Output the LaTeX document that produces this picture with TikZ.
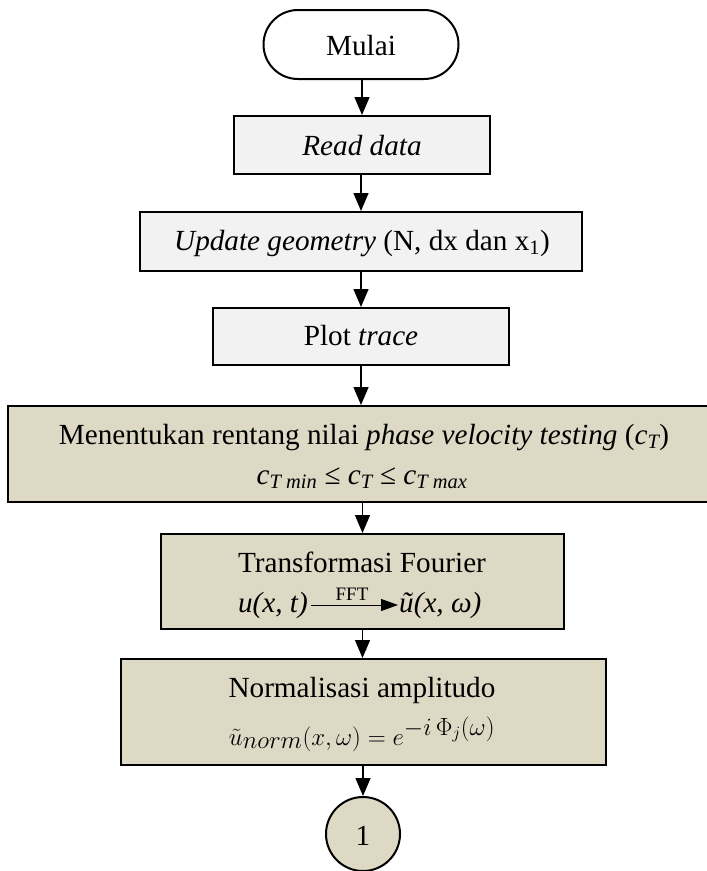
\documentclass[tikz,border=0pt]{standalone}
\usepackage{fontspec}
\setmainfont{Liberation Serif}
\usetikzlibrary{arrows.meta,shapes.misc}
\definecolor{boxgrey}{HTML}{F2F2F2}
\definecolor{boxtan}{HTML}{DDD9C4}
\tikzset{
  txt/.style={font=\fontsize{29.2}{35}\selectfont, inner sep=0pt, anchor=base},
  mathtxt/.style={font=\fontsize{36}{40}\selectfont, inner sep=0pt, anchor=base},
  smalltxt/.style={font=\fontsize{19}{22}\selectfont, inner sep=0pt, anchor=base},
  outline/.style={draw=black, line width=2pt},
  greybox/.style={outline, fill=boxgrey, rectangle, inner sep=0pt},
  tanbox/.style={outline, fill=boxtan, rectangle, inner sep=0pt},
  terminal/.style={outline, fill=white, rounded rectangle, inner sep=0pt},
  connector/.style={outline, fill=boxtan, circle, inner sep=0pt},
  flowarrow/.style={draw=black, line width=1.3pt, -{Triangle[length=18pt,width=15pt]}},
}
\begin{document}
\begin{tikzpicture}[x=1pt,y=-1pt]
\useasboundingbox (0,0) rectangle (707,871);

% boxes of the flow, top to bottom
\node[terminal, minimum width=195pt, minimum height=69pt] (start) at (361,44.5) {};
\node[greybox, minimum width=256pt, minimum height=58pt] (read) at (362,145) {};
\node[greybox, minimum width=442pt, minimum height=59pt] (geom) at (361,241.5) {};
\node[greybox, minimum width=296pt, minimum height=57pt] (plot) at (361,336.5) {};
\node[tanbox, minimum width=704pt, minimum height=96pt] (range) at (360,454) {};
\node[tanbox, minimum width=403pt, minimum height=95pt] (fft) at (362.5,581.5) {};
\node[tanbox, minimum width=485pt, minimum height=106pt] (norm) at (363.5,712) {};
\node[connector, minimum size=74pt] (link) at (363,834) {};

% texts
\node[txt] (tstart) at (361,55) {Mulai};
\node[txt] (tread) at (362,155) {\textit{Read data}};
\node[txt] (tgeom) at (362,250) {\textit{Update geometry} (N, dx dan x\textsubscript{1})};
\node[txt] (tplot) at (361,345) {Plot \textit{trace}};
\node[txt] (trange1) at (364,444) {Menentukan rentang nilai \textit{phase velocity testing} (\textit{c\textsubscript{T}})};
\node[txt] (trange2) at (362,484) {\textit{c\textsubscript{T min}} ≤ \textit{c\textsubscript{T}} ≤ \textit{c\textsubscript{T max}}};
\node[txt] (tfft1) at (362,572) {Transformasi Fourier};
\node[txt, anchor=base east] (tfftl) at (308,612) {\textit{u(x, t)}};
\node[txt, anchor=base west] (tfftr) at (399,612) {\textit{ũ(x, ω)}};
\node[smalltxt] (tfftlab) at (352,600) {FFT};
\node[txt] (tnorm1) at (362,697) {Normalisasi amplitudo};
\node[mathtxt] (tnorm2) at (362,745) {$\tilde{u}_{norm}(x,\omega) = e^{-i\,\Phi_j(\omega)}$};
\node[txt] (tlink) at (363,845) {1};

% connectors
\draw[flowarrow] (start.south -| read.north) -- (read.north);
\draw[flowarrow] (read.south -| geom.north) -- (geom.north);
\draw[flowarrow] (geom.south) -- (plot.north);
\draw[flowarrow] (plot.south) -- (plot.south |- range.north);
\draw[flowarrow] (range.south -| fft.north) -- (fft.north);
\draw[flowarrow] (fft.south) -- (fft.south |- norm.north);
\draw[flowarrow] (norm.south -| link.north) -- (link.north);
\draw[draw=black, line width=1pt, -{Triangle[length=17pt,width=12pt]}] ([xshift=3pt,yshift=7pt]tfftl.base east) -- ([xshift=-1pt,yshift=7pt]tfftr.base west);
\end{tikzpicture}
\end{document}
